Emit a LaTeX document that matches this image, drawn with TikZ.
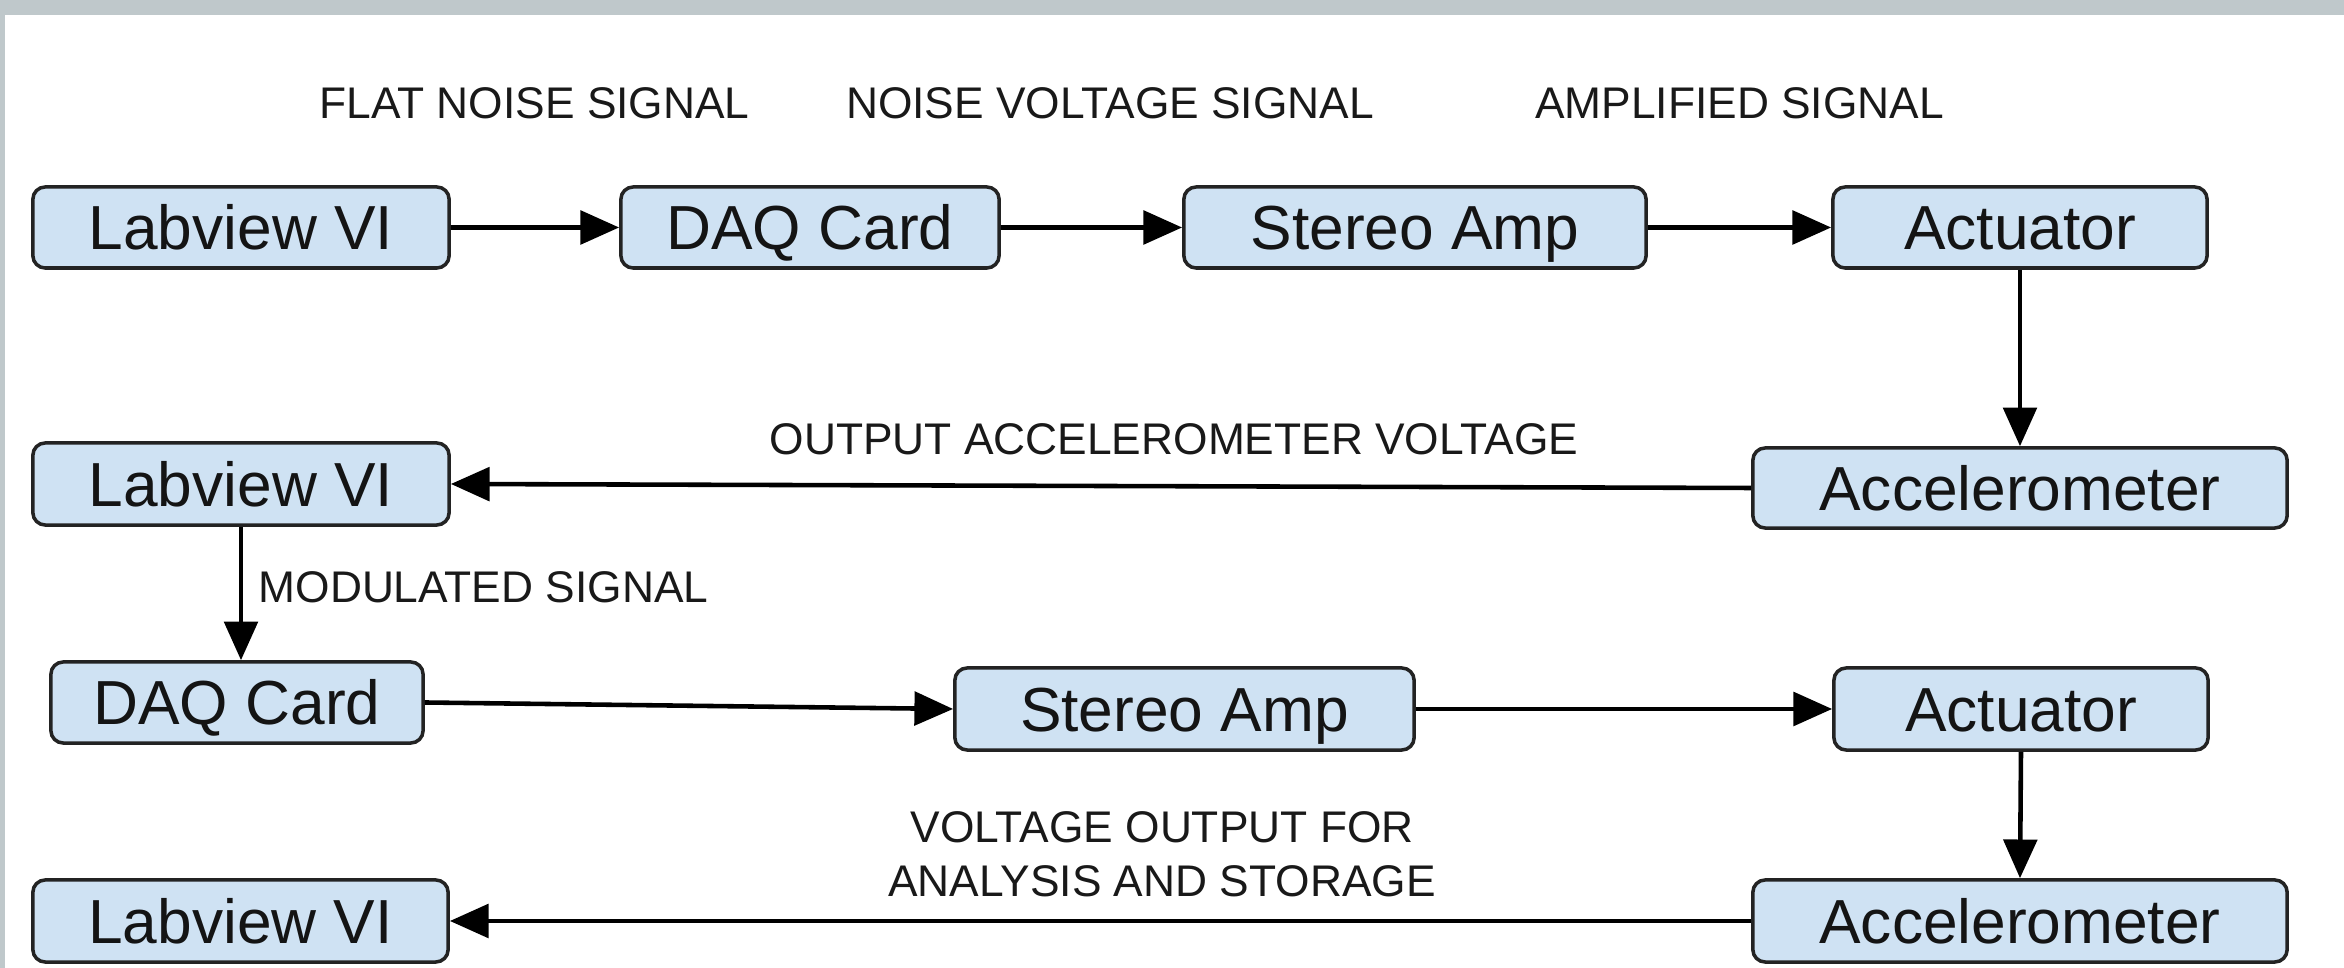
\documentclass[tikz,border=0pt]{standalone}
\usepackage{fontspec}
\setmainfont{Liberation Sans}
\usetikzlibrary{arrows.meta}
\definecolor{framegrey}{RGB}{191,200,203}
\definecolor{boxblue}{RGB}{207,226,243}
\definecolor{boxline}{RGB}{35,35,35}
\tikzset{
 blk/.style={draw=boxline, line width=1pt, fill=boxblue, rounded corners=3.5pt, inner sep=0pt,
   text height=12.7pt, text depth=0pt, text=black!92, font=\fontsize{17.7}{21}\selectfont},
 lbl/.style={inner sep=0pt, anchor=base, font=\fontsize{12.6}{15.1}\selectfont, text=black!90},
 conn/.style={line width=1.3pt, -{Triangle[length=11pt,width=9.5pt]}},
}
\begin{document}
\begin{tikzpicture}[x=0.01cm,y=-0.01cm]
\useasboundingbox (0,0) rectangle (2344,968);
\fill[white] (0,0) rectangle (2344,968);
\fill[framegrey] (0,0) rectangle (2344,15);
\fill[framegrey] (0,0) rectangle (5,968);

% row 1
\node[blk, minimum width=4.16cm, minimum height=0.81cm] (LV1) at (241,227.5) {Labview VI};
\node[blk, minimum width=3.78cm, minimum height=0.81cm] (DAQ1) at (810,227.5) {DAQ Card};
\node[blk, minimum width=4.62cm, minimum height=0.81cm] (SA1) at (1415,227.5) {Stereo Amp};
\node[blk, minimum width=3.74cm, minimum height=0.81cm] (ACT1) at (2020,227.5) {Actuator};
% row 2
\node[blk, minimum width=4.16cm, minimum height=0.82cm] (LV2) at (241,484) {Labview VI};
\node[blk, minimum width=5.34cm, minimum height=0.80cm] (ACC2) at (2020,488) {Accelerometer};
% row 3
\node[blk, minimum width=3.72cm, minimum height=0.81cm] (DAQ3) at (237,702.5) {DAQ Card};
\node[blk, minimum width=4.59cm, minimum height=0.82cm] (SA3) at (1184.5,709) {Stereo Amp};
\node[blk, minimum width=3.74cm, minimum height=0.82cm] (ACT3) at (2021,709) {Actuator};
% row 4
\node[blk, minimum width=4.15cm, minimum height=0.82cm] (LV4) at (240.5,921) {Labview VI};
\node[blk, minimum width=5.34cm, minimum height=0.82cm] (ACC4) at (2020,921) {Accelerometer};

% labels
\node[lbl] (l1) at (534.5,119) {FLAT NOISE SIGNAL};
\node[lbl] (l2) at (1110,119) {NOISE VOLTAGE SIGNAL};
\node[lbl] (l3) at (1739.5,119) {AMPLIFIED SIGNAL};
\node[lbl] (l4) at (1174,455) {OUTPUT ACCELEROMETER VOLTAGE};
\node[lbl] (l5) at (483.5,603) {MODULATED SIGNAL};
\node[lbl] (l6a) at (1162,843) {VOLTAGE OUTPUT FOR};
\node[lbl] (l6b) at (1162,897) {ANALYSIS AND STORAGE};

% connectors
\draw[conn] (LV1.east) -- (DAQ1.west);
\draw[conn] (DAQ1.east) -- (SA1.west);
\draw[conn] (SA1.east) -- (ACT1.west);
\draw[conn] (ACT1.south) -- (ACC2.north);
\draw[conn] (ACC2.west) -- (LV2.east);
\draw[conn] (LV2.south) -- (LV2.south |- DAQ3.north);
\draw[conn] (DAQ3.east) -- (SA3.west);
\draw[conn] (SA3.east) -- (ACT3.west);
\draw[conn] (ACT3.south) -- (ACC4.north);
\draw[conn] (ACC4.west) -- (LV4.east);
\end{tikzpicture}
\end{document}
